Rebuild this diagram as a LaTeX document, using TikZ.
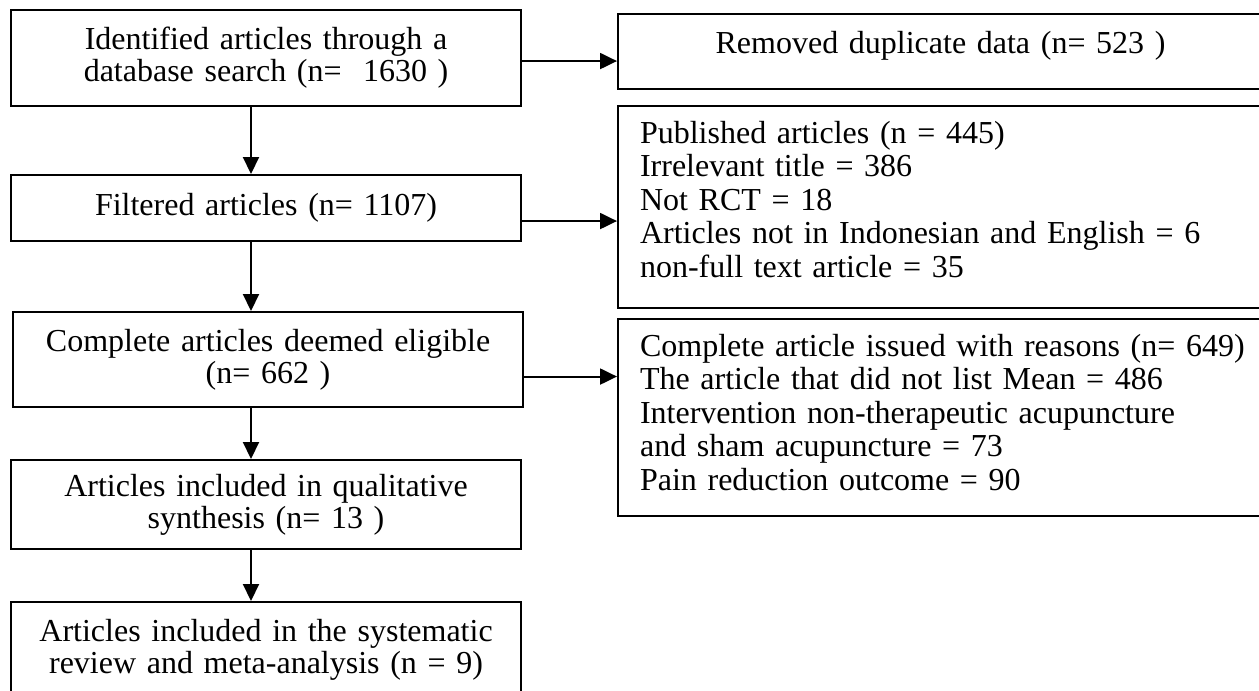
\documentclass[tikz,border=0pt]{standalone}
\usepackage{fontspec}
\setmainfont{Liberation Serif}
\usepackage{tikz}
\usetikzlibrary{arrows.meta, positioning, calc}

\tikzset{
  flowbox/.style={draw, anchor=north west, minimum width=510pt, text width=490pt,
    inner xsep=10pt, align=center, font=\fontsize{32pt}{32pt}\selectfont},
  sidebox/.style={draw, anchor=north west, text width=640pt, inner xsep=22pt,
    inner ysep=15pt, text height=22pt, align=left, font=\fontsize{32pt}{33.5pt}\selectfont}
}

\begin{document}
\begin{tikzpicture}[>={Triangle[length=17pt, width=16pt]}, x=1pt, y=-1pt, line width=2.1pt]
    \useasboundingbox (0,0) rectangle (1259,691);
    % Main column
    \node[flowbox, minimum height=96pt] (ident) at (10,9) {Identified articles through a\\database search (n=~ 1630 )};
    \node[flowbox, minimum height=66pt] (filtered) at (10,174) {Filtered articles (n= 1107)};
    \node[flowbox, minimum height=95pt] (eligible) at (12,311) {Complete articles deemed eligible\\(n= 662 )};
    \node[flowbox, minimum height=89pt] (qualit) at (10,459) {Articles included in qualitative\\synthesis (n= 13 )};
    \node[flowbox, minimum height=95pt] (final) at (10,601) {Articles included in the systematic\\review and meta-analysis (n = 9)};
    \coordinate (spine) at (251,0);
    % Excluded records
    \node[sidebox, text width=601pt, inner ysep=17pt, text depth=19pt, align=center] (dup) at (617,13) {Removed duplicate data (n= 523 )};
    \node[sidebox, text depth=150pt] (excl1) at (617,105) {Published articles (n = 445)\\
        Irrelevant title = 386\\
        Not RCT = 18\\
        Articles not in Indonesian and English = 6\\
        non-full text article = 35};
    \node[sidebox, text depth=145pt] (excl2) at (617,318) {Complete article issued with reasons (n= 649)\\
        The article that did not list Mean = 486\\
        Intervention non-therapeutic acupuncture\\
        and sham acupuncture = 73\\
        Pain reduction outcome = 90};
    % Down arrows
    \draw[->] (ident.south -| spine) -- (filtered.north -| spine);
    \draw[->] (filtered.south -| spine) -- (eligible.north -| spine);
    \draw[->] (eligible.south -| spine) -- (qualit.north -| spine);
    \draw[->] (qualit.south -| spine) -- (final.north -| spine);
    % Side arrows
    \draw[->] ([yshift=-3pt]ident.east) -- ([yshift=-3pt]ident.east -| dup.west);
    \draw[->] ([yshift=-13pt]filtered.east) -- ([yshift=-13pt]filtered.east -| excl1.west);
    \draw[->] ([yshift=-17pt]eligible.east) -- ([yshift=-17pt]eligible.east -| excl2.west);
\end{tikzpicture}
\end{document}
